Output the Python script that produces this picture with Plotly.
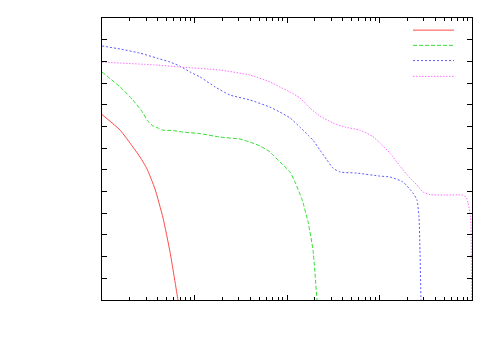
import plotly.graph_objects as go

# curve data (log x, linear y)
red_x = [1.0, 1.57, 2.16, 2.58, 3.07, 3.74, 4.57, 5.44, 6.63, 6.97]
red_y = [8.55, 7.83, 7.05, 6.59, 6.04, 5.12, 3.78, 2.21, 0.0, -0.55]

green_x = [1.0, 1.57, 2.16, 2.78, 3.07, 3.56, 4.03, 4.57, 5.86, 7.51, 11.5, 18.9,
           31.0, 39.8, 51.1, 65.5, 84.0, 108, 122, 145, 169, 191, 211, 216]
green_y = [10.51, 9.82, 9.22, 8.62, 8.29, 8.02, 7.93, 7.83, 7.81, 7.74, 7.67, 7.51,
           7.42, 7.28, 7.10, 6.82, 6.36, 5.90, 5.44, 4.65, 3.59, 2.30, 0.0, -0.46]

blue_x = [1.0, 1.57, 2.58, 3.93, 5.44, 6.97, 8.94, 11.5, 16.7, 24.2, 39.8, 65.5, 84.0,
          108, 138, 169, 191, 227, 271, 314, 374, 571, 1013, 1299, 1796, 2302, 2543,
          2673, 2740, 2809, 2830]
blue_y = [11.71, 11.57, 11.38, 11.15, 10.97, 10.78, 10.51, 10.28, 9.82, 9.45, 9.22, 8.89,
          8.66, 8.39, 7.97, 7.60, 7.37, 6.91, 6.45, 6.08, 5.90, 5.85, 5.71, 5.67, 5.44,
          4.93, 4.61, 3.82, 2.30, 0.0, -0.46]

magenta_x = [1.0, 3.93, 6.97, 18.9, 39.8, 65.5, 84.0, 108, 138, 177, 227, 314, 424, 616,
             830, 1013, 1299, 1666, 2136, 2543, 2953, 3514, 5107, 7796, 8613, 9054, 9681,
             9826, 9901]
magenta_y = [10.97, 10.83, 10.74, 10.60, 10.37, 10.05, 9.82, 9.59, 9.31, 8.85, 8.48, 8.16,
             7.97, 7.83, 7.56, 7.24, 6.77, 6.18, 5.62, 5.30, 4.98, 4.86, 4.84, 4.84, 4.75,
             4.47, 3.82, 2.30, 0.0]

series = [
    (red_x, red_y, "#ff4a4a", "solid"),
    (green_x, green_y, "#33e033", "4px,2px"),
    (blue_x, blue_y, "#5a5aff", "2px,2px"),
    (magenta_x, magenta_y, "#ff70ff", "1.5px,1.5px"),
]

fig = go.Figure()
for xs, ys, col, dash in series:
    fig.add_trace(go.Scatter(x=xs, y=ys, mode="lines",
                             line=dict(color=col, width=1, dash=dash,
                                       shape="spline", smoothing=0.5)))

# legend samples (no labels in the reference)
legend_y = [0.957, 0.903, 0.849, 0.793]
for (xs, ys, col, dash), ly in zip(series, legend_y):
    fig.add_shape(type="line", xref="paper", yref="paper",
                  x0=0.8405, x1=0.9514, y0=ly, y1=ly,
                  line=dict(color=col, width=1, dash=dash))

fig.update_layout(
    width=500, height=350,
    margin=dict(l=94, r=36, t=10, b=58),
    plot_bgcolor="white", paper_bgcolor="white",
    showlegend=False,
)
fig.update_xaxes(type="log", range=[0, 4], dtick=1,
                 showgrid=False, zeroline=False, showticklabels=False,
                 ticks="inside", ticklen=5, tickcolor="black",
                 showline=True, linecolor="black", linewidth=1, mirror="ticks",
                 minor=dict(ticks="inside", ticklen=3, dtick="D1", tickcolor="black", showgrid=False))
fig.update_yaxes(range=[0, 13], dtick=1,
                 showgrid=False, zeroline=False, showticklabels=False,
                 ticks="inside", ticklen=5, tickcolor="black",
                 showline=True, linecolor="black", linewidth=1, mirror="ticks")

fig.write_html("out.html")
